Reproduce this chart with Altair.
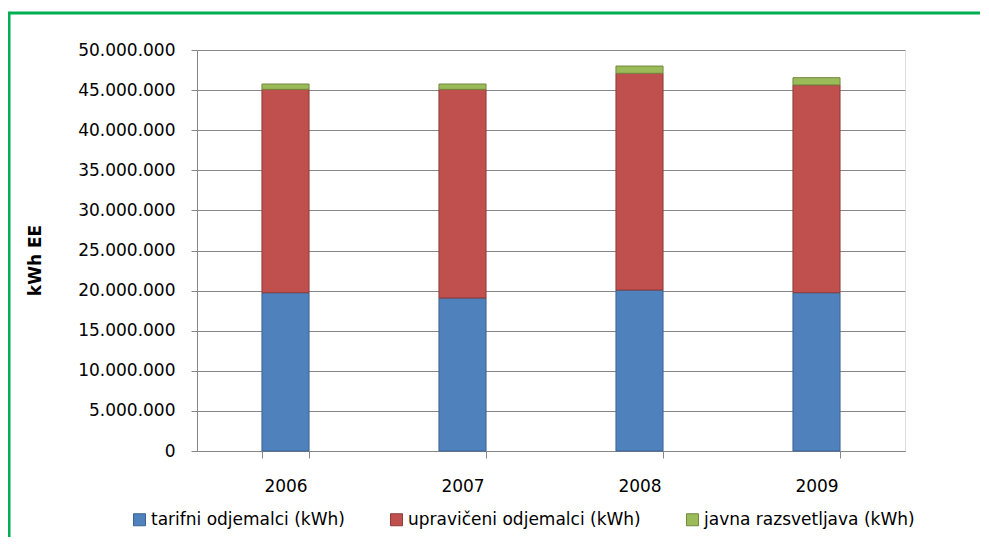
import altair as alt
import pandas as pd

years = ["2006", "2007", "2008", "2009"]
tarifni = [19740000, 19080000, 20070000, 19740000]
upraviceni = [25360000, 26020000, 27030000, 25900000]
javna = [660000, 660000, 900000, 910000]

series = ["tarifni odjemalci (kWh)", "upravičeni odjemalci (kWh)", "javna razsvetljava  (kWh)"]
fills = ["#4F81BD", "#C0504D", "#9BBB59"]
strokes = ["#3B6391", "#8E3B39", "#72893F"]

rows = []
for i, y in enumerate(years):
    for k, vals in enumerate([tarifni, upraviceni, javna]):
        rows.append({"year": y, "series": series[k], "value": vals[i], "ord": k})
df = pd.DataFrame(rows)

FONT = "DejaVu Sans"

bars = alt.Chart(df).mark_bar(strokeWidth=1).encode(
    x=alt.X("year:N", title=None, sort=years,
            scale=alt.Scale(paddingInner=0.734, paddingOuter=0.367),
            axis=alt.Axis(labelAngle=0, tickBand="extent", tickSize=7, labelPadding=20,
                          domainColor="#868686", tickColor="#868686", labelFontSize=17,
                          labelColor="#000000", labelFont=FONT, grid=False)),
    y=alt.Y("value:Q", stack="zero", title="kWh EE",
            scale=alt.Scale(domain=[0, 50000000], nice=False),
            axis=alt.Axis(values=list(range(0, 50000001, 5000000)), tickSize=6, labelPadding=16,
                          labelExpr="replace(format(datum.value, ','), regexp(',', 'g'), '.')",
                          domainColor="#868686", tickColor="#868686", gridColor="#868686",
                          labelFontSize=17, labelColor="#000000", labelFont=FONT,
                          titleFont=FONT, titleFontSize=17, titleFontWeight="bold",
                          titleColor="#000000", titleX=-153, titleY=210, titleAngle=-90,
                          titleBaseline="bottom")),
    color=alt.Color("series:N", sort=series,
                    scale=alt.Scale(domain=series, range=fills),
                    legend=alt.Legend(title=None, orient="none", direction="horizontal",
                                      legendX=-66, legendY=461, symbolType="square",
                                      symbolSize=144, symbolStrokeWidth=1, labelOffset=3,
                                      columnPadding=43, labelFontSize=17, labelFont=FONT,
                                      labelColor="#000000", labelLimit=500)),
    stroke=alt.Stroke("series:N", scale=alt.Scale(domain=series, range=strokes), legend=None),
    order=alt.Order("ord:Q"),
)

border_df = pd.DataFrame({"b": [0]})
border = alt.Chart(border_df).mark_rect(fill=None, stroke="#00B050", strokeWidth=3, clip=False).encode(
    x=alt.value(-188), x2=alt.value(900), y=alt.value(-37), y2=alt.value(600)
)

chart = alt.layer(border, bars).properties(
    width=708, height=401,
    autosize=alt.AutoSizeParams(type="none"),
    padding={"left": 189, "top": 42, "right": 75, "bottom": 86},
).configure_view(stroke=None).configure(background="#ffffff")

chart.save("out.html", embed_options={"renderer": "svg", "actions": False})
